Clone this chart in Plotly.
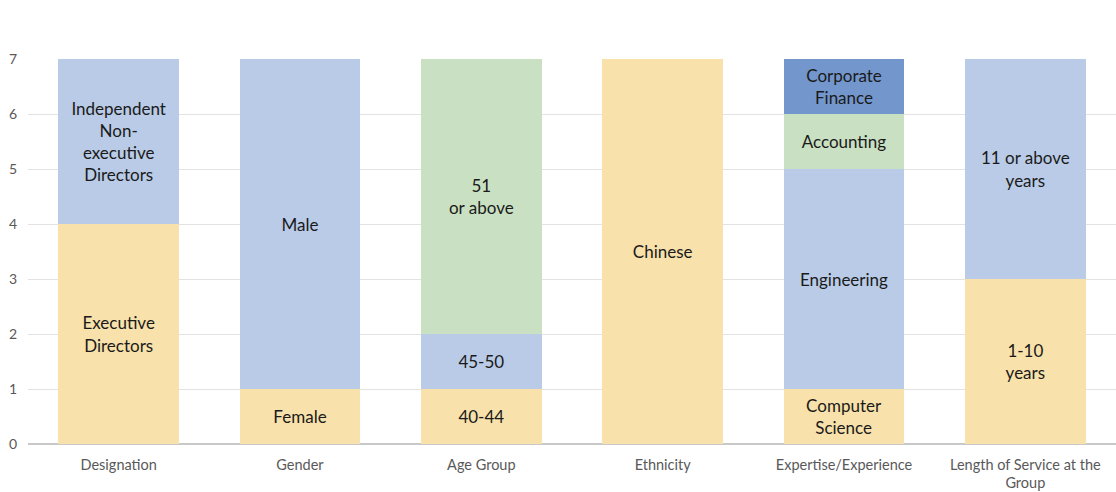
import plotly.graph_objects as go

categories = ["Designation", "Gender", "Age Group", "Ethnicity",
              "Expertise/Experience", "Length of Service at the<br>Group"]

layer1_values = [4, 1, 1, 7, 1, 3]
layer1_labels = ["Executive<br>Directors", "Female", "40-44", "Chinese",
                 "Computer<br>Science", "1-10<br>years"]

layer2_values = [3, 6, 1, 0, 4, 4]
layer2_labels = ["Independent<br>Non-<br>executive<br>Directors", "Male", "45-50", "",
                 "Engineering", "11 or above<br>years"]

layer3_values = [0, 0, 5, 0, 1, 0]
layer3_labels = ["", "", "51<br>or above", "", "Accounting", ""]

layer4_values = [0, 0, 0, 0, 1, 0]
layer4_labels = ["", "", "", "", "Corporate<br>Finance", ""]

colors = ["#F8E1AA", "#B9CBE6", "#C9E0C2", "#7396CD"]

fig = go.Figure()
for vals, labs, col in [(layer1_values, layer1_labels, colors[0]),
                        (layer2_values, layer2_labels, colors[1]),
                        (layer3_values, layer3_labels, colors[2]),
                        (layer4_values, layer4_labels, colors[3])]:
    fig.add_trace(go.Bar(
        x=categories, y=vals, text=labs, marker=dict(color=col, line=dict(width=0)),
        textposition="inside", insidetextanchor="middle", textangle=0,
        constraintext="none",
        textfont=dict(family="Lato, Open Sans, sans-serif", size=17, color="#1a1a1a"),
        hoverinfo="skip", showlegend=False,
    ))

fig.update_layout(
    barmode="stack", bargap=0.333,
    width=1116, height=492,
    margin=dict(l=28, r=0, t=59, b=48),
    plot_bgcolor="white", paper_bgcolor="white",
    uniformtext=dict(minsize=17, mode="show"),
    xaxis=dict(showgrid=False, ticks="", showline=False, ticklabelstandoff=10,
               tickfont=dict(family="Lato, Open Sans, sans-serif", size=14.5, color="#595959")),
    yaxis=dict(range=[0, 7], dtick=1, showgrid=True, gridcolor="#E3E3E3", gridwidth=1,
               zeroline=True, zerolinecolor="#C8C8C8", zerolinewidth=1.5,
               ticks="", ticklabelstandoff=10,
               tickfont=dict(family="Lato, Open Sans, sans-serif", size=14, color="#595959")),
)

fig.write_html("out.html")
